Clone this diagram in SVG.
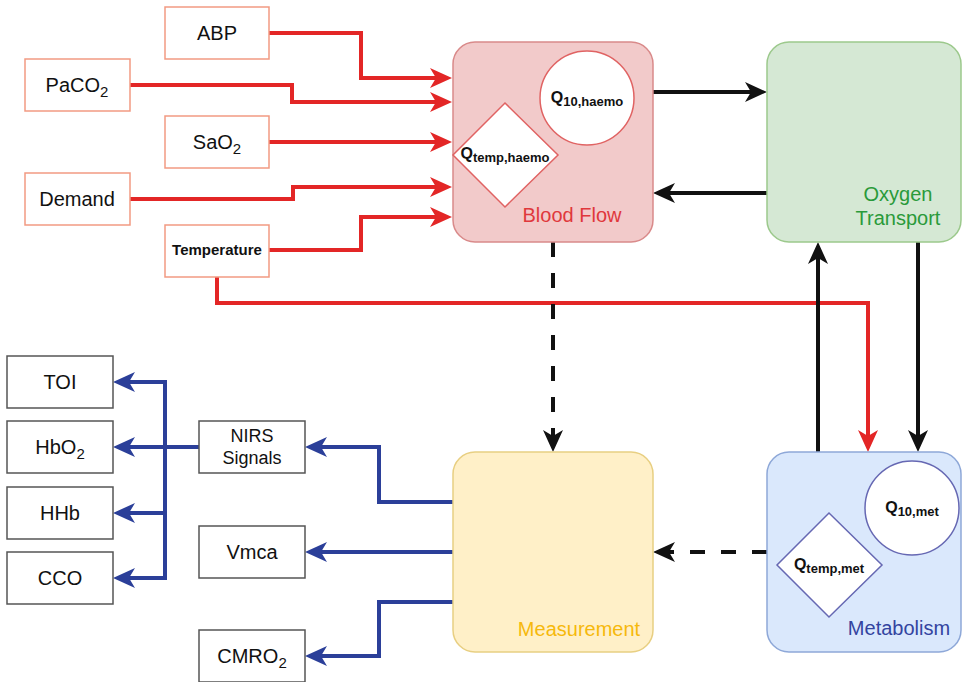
<svg xmlns="http://www.w3.org/2000/svg" width="962" height="682" viewBox="0 0 962 682">
<style>
text{font-family:"Liberation Sans",Arial,sans-serif;fill:#111;}
.in{fill:#fff;stroke:#f29a82;stroke-width:1.5;}
.out{fill:#fff;stroke:#555;stroke-width:1.5;}
.t20{font-size:20px;text-anchor:middle;}
.t18{font-size:18px;text-anchor:middle;}
.q{font-size:16px;font-weight:bold;text-anchor:middle;}
.r{fill:none;stroke:#e32626;stroke-width:4;marker-end:url(#ar);}
.k{fill:none;stroke:#111;stroke-width:4;marker-end:url(#ak);}
.kd{fill:none;stroke:#111;stroke-width:4;stroke-dasharray:15,16;marker-end:url(#ak);}
.b{fill:none;stroke:#2b3f99;stroke-width:4;marker-end:url(#ab);}
</style>
<defs>
<marker id="ar" markerUnits="userSpaceOnUse" markerWidth="22" markerHeight="20" refX="8" refY="10" orient="auto" viewBox="0 0 22 20"><path d="M0,0 L22,10 L0,20 L6,10 z" fill="#e32626"/></marker>
<marker id="ak" markerUnits="userSpaceOnUse" markerWidth="22" markerHeight="20" refX="8" refY="10" orient="auto" viewBox="0 0 22 20"><path d="M0,0 L22,10 L0,20 L6,10 z" fill="#111"/></marker>
<marker id="ab" markerUnits="userSpaceOnUse" markerWidth="22" markerHeight="20" refX="8" refY="10" orient="auto-start-reverse" viewBox="0 0 22 20"><path d="M0,0 L22,10 L0,20 L6,10 z" fill="#2b3f99"/></marker>
</defs>
<rect width="962" height="682" fill="#fff"/>

<g id="connectors">
<path class="r" d="M269,33 H361 V78 H438"/>
<path class="r" d="M130,85 H292 V102 H438"/>
<path class="r" d="M269,142 H438"/>
<path class="r" d="M130,199 H293 V187 H438"/>
<path class="r" d="M269,250 H361 V217 H438"/>
<path class="r" d="M217,277 V303 H868 V438"/>
<path class="k" d="M653,92 H753"/>
<path class="k" d="M767,193 H667"/>
<path class="k" d="M818,452 V256"/>
<path class="k" d="M918,242 V438"/>
<path class="kd" d="M553,242 V438"/>
<path class="kd" d="M767,552 H667"/>
<path class="b" d="M453,502 H379 V447 H319"/>
<path class="b" d="M453,552 H319"/>
<path class="b" d="M453,602 H379 V656 H319"/>
<path class="b" d="M127,382 H165 V578 H127" style="marker-start:url(#ab)"/>
<path class="b" d="M199,447 H127"/>
<path class="b" d="M165,513 H127"/>
</g>

<g id="abp"><rect class="in" x="165" y="7" width="104" height="52"/><text class="t20" x="217" y="40">ABP</text></g>
<g id="paco2"><rect class="in" x="25" y="59" width="105" height="52"/><text class="t20" x="77" y="92">PaCO<tspan font-size="15" dy="5">2</tspan></text></g>
<g id="sao2"><rect class="in" x="165" y="116" width="104" height="52"/><text class="t20" x="217" y="149">SaO<tspan font-size="15" dy="5">2</tspan></text></g>
<g id="demand"><rect class="in" x="25" y="173" width="105" height="52"/><text class="t20" x="77" y="206">Demand</text></g>
<g id="temperature"><rect class="in" x="165" y="225" width="104" height="52"/><text x="217" y="255" style="font-size:15px;font-weight:bold;text-anchor:middle">Temperature</text></g>

<g id="bloodflow">
<rect x="453" y="42" width="200" height="200" rx="22" fill="#f2caca" stroke="#d98a8a" stroke-width="1.5"/>
<circle cx="587" cy="98" r="47" fill="#fff" stroke="#e06363" stroke-width="1.5"/>
<polygon points="505,103 558,155 505,207 453,155" fill="#fff" stroke="#e06363" stroke-width="1.5"/>
<text class="q" x="587" y="103">Q<tspan font-size="13" dy="3">10,haemo</tspan></text>
<text class="q" x="505" y="159">Q<tspan font-size="13" dy="3">temp,haemo</tspan></text>
<text class="t20" x="572" y="222" style="fill:#e0383c">Blood Flow</text>
</g>

<g id="oxygen">
<rect x="767" y="42" width="194" height="200" rx="22" fill="#d5e8d4" stroke="#9cc98c" stroke-width="1.5"/>
<text class="t20" x="898" y="201" style="fill:#2a9a3a">Oxygen</text>
<text class="t20" x="898" y="225" style="fill:#2a9a3a">Transport</text>
</g>

<g id="measurement">
<rect x="453" y="452" width="200" height="200" rx="22" fill="#fff0c8" stroke="#e8cf82" stroke-width="1.5"/>
<text class="t20" x="579" y="636" style="fill:#f6b90c">Measurement</text>
</g>

<g id="metabolism">
<rect x="767" y="452" width="194" height="200" rx="22" fill="#dae8fc" stroke="#8ea8d8" stroke-width="1.5"/>
<circle cx="912" cy="508" r="47" fill="#fff" stroke="#6668b3" stroke-width="1.5"/>
<polygon points="829,513 882,565 829,617 777,565" fill="#fff" stroke="#6668b3" stroke-width="1.5"/>
<text class="q" x="912" y="513">Q<tspan font-size="13" dy="3">10,met</tspan></text>
<text class="q" x="829" y="570">Q<tspan font-size="13" dy="3">temp,met</tspan></text>
<text class="t20" x="899" y="635" style="fill:#3344a0">Metabolism</text>
</g>

<g id="toi"><rect class="out" x="7" y="356" width="106" height="52"/><text class="t20" x="60" y="389">TOI</text></g>
<g id="hbo2"><rect class="out" x="7" y="421" width="106" height="52"/><text class="t20" x="60" y="454">HbO<tspan font-size="15" dy="5">2</tspan></text></g>
<g id="hhb"><rect class="out" x="7" y="487" width="106" height="52"/><text class="t20" x="60" y="520">HHb</text></g>
<g id="cco"><rect class="out" x="7" y="552" width="106" height="52"/><text class="t20" x="60" y="585">CCO</text></g>
<g id="nirs"><rect class="out" x="199" y="421" width="106" height="52"/><text class="t18" x="252" y="442">NIRS</text><text class="t18" x="252" y="464">Signals</text></g>
<g id="vmca"><rect class="out" x="199" y="526" width="106" height="52"/><text class="t20" x="252" y="559">Vmca</text></g>
<g id="cmro2"><rect class="out" x="199" y="630" width="106" height="52"/><text class="t20" x="252" y="663">CMRO<tspan font-size="15" dy="5">2</tspan></text></g>
</svg>
